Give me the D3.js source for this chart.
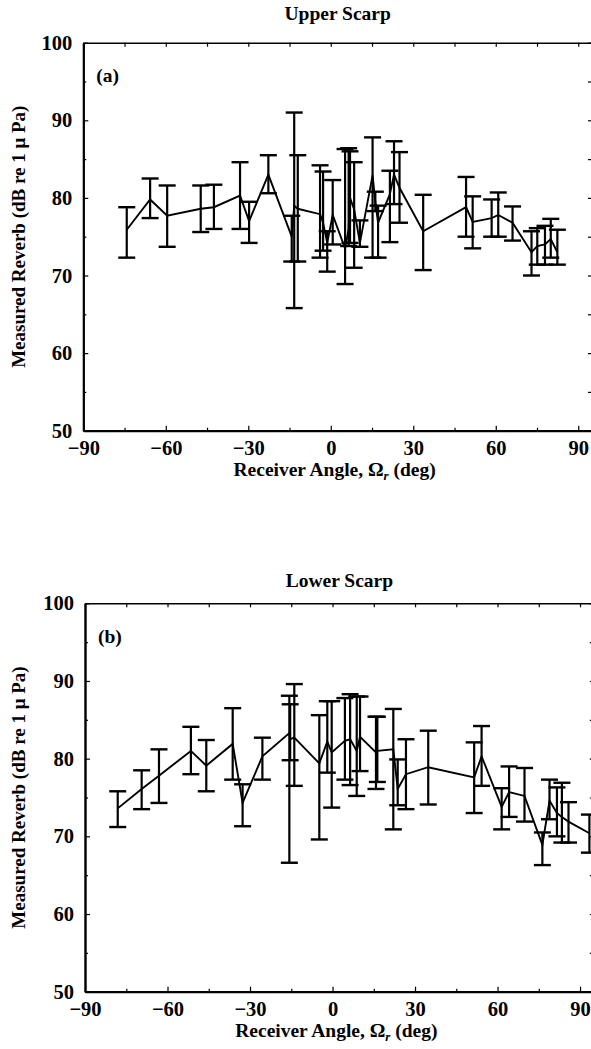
<!DOCTYPE html>
<html>
<head>
<meta charset="utf-8">
<script src="https://cdn.jsdelivr.net/npm/d3@7"></script>
<style>
  body { margin: 0; background: #fff; }
  svg { display: block; }
  text { font-family: "Liberation Serif", "DejaVu Serif", serif; font-weight: bold; fill: #000; }
</style>
</head>
<body>
<script>
// panel (a) Upper Scarp : receiver angle, measured reverb, error bar low / high
var angleA = [-74.2, -65.7, -59.5, -47.3, -42.5, -33.0, -29.7, -22.7, -14.2, -13.3, -12.0,
              -3.9, -2.8, -1.3, 0.7, 5.2, 6.5, 7.0, 8.5, 10.6, 15.2, 16.2, 17.2, 21.5, 23.0, 25.0,
              33.6, 49.2, 51.6, 58.5, 60.9, 66.1, 73.0, 75.1, 77.9, 80.0, 82.4];
var reverbA = [75.9, 79.8, 77.7, 78.6, 78.8, 80.3, 77.0, 83.0, 75.0, 79.0, 78.6,
               77.9, 76.8, 74.2, 77.8, 73.5, 76.0, 80.0, 78.5, 74.2, 82.9, 79.5, 76.8, 80.5, 83.0, 81.3,
               75.7, 78.8, 76.9, 77.4, 77.8, 76.8, 73.0, 73.8, 74.0, 74.7, 73.0];
var lowA = [72.3, 77.4, 73.7, 75.6, 76.0, 76.0, 74.2, 80.6, 71.8, 65.8, 71.8,
            72.3, 73.2, 70.5, 74.0, 68.9, 73.8, 74.2, 71.0, 73.7, 72.3, 78.3, 72.3, 74.3, 79.2, 76.8,
            70.7, 75.0, 73.5, 75.0, 75.0, 74.5, 70.0, 71.4, 71.4, 72.3, 71.4];
var highA = [78.8, 82.5, 81.6, 81.6, 81.7, 84.6, 79.5, 85.5, 77.7, 91.0, 85.5,
             84.2, 83.4, 75.7, 82.3, 86.3, 86.4, 86.0, 84.6, 77.1, 87.8, 80.8, 79.0, 83.5, 87.3, 85.9,
             80.4, 82.7, 80.2, 79.8, 80.7, 78.9, 75.7, 76.1, 76.4, 77.3, 75.9];

// panel (b) Lower Scarp
var angleB = [-78.1, -69.4, -63.1, -51.5, -45.9, -36.3, -32.7, -25.5, -15.7, -15.4, -13.9,
              -4.8, -1.9, -0.3, 4.5, 6.4, 8.8, 10.0, 15.8, 16.3, 22.1, 23.7, 26.7, 34.8,
              51.5, 54.2, 61.5, 64.2, 69.8, 76.3, 78.9, 81.6, 83.4, 85.8, 93.4];
var reverbB = [73.6, 76.1, 77.8, 81.0, 79.1, 81.9, 74.3, 80.3, 83.3, 82.5, 82.7,
               79.4, 82.2, 80.8, 82.3, 82.5, 81.0, 82.8, 80.8, 81.0, 81.2, 76.1, 78.0, 78.9,
               77.6, 80.3, 73.8, 75.7, 75.2, 68.9, 74.6, 73.0, 72.5, 71.9, 70.4];
var lowB = [71.2, 73.5, 74.3, 78.0, 75.8, 77.3, 71.3, 77.3, 66.6, 79.8, 76.5,
            69.6, 78.2, 73.7, 77.3, 76.6, 75.2, 78.4, 76.1, 77.0, 70.9, 74.0, 73.5, 74.1,
            73.0, 76.5, 70.9, 72.5, 71.9, 66.3, 72.2, 70.0, 69.2, 69.2, 67.9];
var highB = [75.8, 78.5, 81.2, 84.1, 82.4, 86.5, 76.7, 82.7, 88.1, 87.0, 89.6,
             85.6, 87.4, 87.4, 87.8, 88.3, 88.0, 88.0, 85.4, 85.4, 86.4, 79.9, 82.5, 83.6,
             82.1, 84.2, 76.2, 79.0, 78.8, 70.5, 77.3, 76.3, 76.9, 74.4, 72.8];

var xMajor = [-90, -60, -30, 0, 30, 60, 90];
var xMinor = [-75, -45, -15, 15, 45, 75];
var yMajor = [50, 60, 70, 80, 90, 100];
var yMinor = [55, 65, 75, 85, 95];

var W = 591, H = 1049;

var svg = d3.select("body").append("svg")
    .attr("width", W)
    .attr("height", H);

svg.append("rect").attr("width", W).attr("height", H).attr("fill", "#fff");

var panels = [
  { title: "Upper Scarp", tag: "(a)", left: 83.3, right: 592, top: 42.7, bottom: 430.7, titleY: 20,
    angle: angleA, reverb: reverbA, low: lowA, high: highA },
  { title: "Lower Scarp", tag: "(b)", left: 85, right: 593.8, top: 603.3, bottom: 991.7, titleY: 587,
    angle: angleB, reverb: reverbB, low: lowB, high: highB }
];

panels.forEach(drawPanel);

function drawPanel(p) {
  var x = d3.scaleLinear().domain([-90, 95]).range([p.left, p.right]);
  var y = d3.scaleLinear().domain([50, 100]).range([p.bottom, p.top]);

  var g = svg.append("g");

  // axes, ticks pointing inward
  var bottom = g.append("g").attr("transform", "translate(0," + p.bottom + ")")
      .call(d3.axisBottom(x).tickValues(xMajor).tickSize(-5).tickSizeOuter(0).tickPadding(10));
  g.append("g").attr("transform", "translate(0," + p.bottom + ")")
      .call(d3.axisBottom(x).tickValues(xMinor).tickSize(-3).tickSizeOuter(0).tickFormat(""));
  var left = g.append("g").attr("transform", "translate(" + p.left + ",0)")
      .call(d3.axisLeft(y).tickValues(yMajor).tickSize(-5).tickSizeOuter(0).tickPadding(11));
  g.append("g").attr("transform", "translate(" + p.left + ",0)")
      .call(d3.axisLeft(y).tickValues(yMinor).tickSize(-3).tickSizeOuter(0).tickFormat(""));
  g.append("g").attr("transform", "translate(0," + p.top + ")")
      .call(d3.axisTop(x).tickValues(xMajor.concat(xMinor)).tickSize(-4).tickSizeOuter(0).tickFormat(""));
  g.append("g").attr("transform", "translate(" + p.right + ",0)")
      .call(d3.axisRight(y).tickValues(yMajor.concat(yMinor)).tickSize(-4).tickSizeOuter(0).tickFormat(""));

  g.selectAll(".domain").attr("stroke", "#000").attr("stroke-width", 1.6);
  bottom.select(".domain").attr("stroke-width", 2.2);
  left.select(".domain").attr("stroke-width", 2.2);
  g.selectAll(".tick line").attr("stroke", "#000").attr("stroke-width", 1.2);
  g.selectAll(".tick text").style("font-size", "20.5px").attr("fill", "#000");

  // labels
  svg.append("text").attr("x", (p.left + p.right) / 2).attr("y", p.titleY)
      .attr("text-anchor", "middle").style("font-size", "19.5px").text(p.title);
  svg.append("text").attr("x", p.left + 13).attr("y", p.top + 39.5)
      .style("font-size", "19.5px").text(p.tag);

  var xl = svg.append("text").attr("x", (p.left + p.right) / 2 - 3).attr("y", p.bottom + 45)
      .attr("text-anchor", "middle").style("font-size", "19.5px");
  xl.append("tspan").text("Receiver Angle, \u03A9");
  xl.append("tspan").attr("dy", 4).style("font-size", "13px").style("font-style", "italic").text("r");
  xl.append("tspan").attr("dy", -4).text(" (deg)");

  svg.append("text")
      .attr("transform", "translate(25," + (p.top + p.bottom) / 2 + ") rotate(-90)")
      .attr("text-anchor", "middle").style("font-size", "19px")
      .text("Measured Reverb (dB re 1 \u03BC Pa)");

  // data
  var pts = p.angle.map(function (a, i) {
    return { a: a, c: p.reverb[i], lo: p.low[i], hi: p.high[i] };
  });

  var bars = g.append("g").selectAll("g").data(pts).enter().append("g");
  bars.append("line")
      .attr("x1", function (d) { return x(d.a); }).attr("x2", function (d) { return x(d.a); })
      .attr("y1", function (d) { return y(d.lo); }).attr("y2", function (d) { return y(d.hi); })
      .attr("stroke", "#000").attr("stroke-width", 2.2);
  bars.append("line")
      .attr("x1", function (d) { return x(d.a) - 8.5; }).attr("x2", function (d) { return x(d.a) + 8.5; })
      .attr("y1", function (d) { return y(d.hi); }).attr("y2", function (d) { return y(d.hi); })
      .attr("stroke", "#000").attr("stroke-width", 2.4);
  bars.append("line")
      .attr("x1", function (d) { return x(d.a) - 8.5; }).attr("x2", function (d) { return x(d.a) + 8.5; })
      .attr("y1", function (d) { return y(d.lo); }).attr("y2", function (d) { return y(d.lo); })
      .attr("stroke", "#000").attr("stroke-width", 2.4);

  g.append("path").datum(pts)
      .attr("fill", "none").attr("stroke", "#000").attr("stroke-width", 1.9)
      .attr("d", d3.line().x(function (d) { return x(d.a); }).y(function (d) { return y(d.c); }));
}
</script>
</body>
</html>
